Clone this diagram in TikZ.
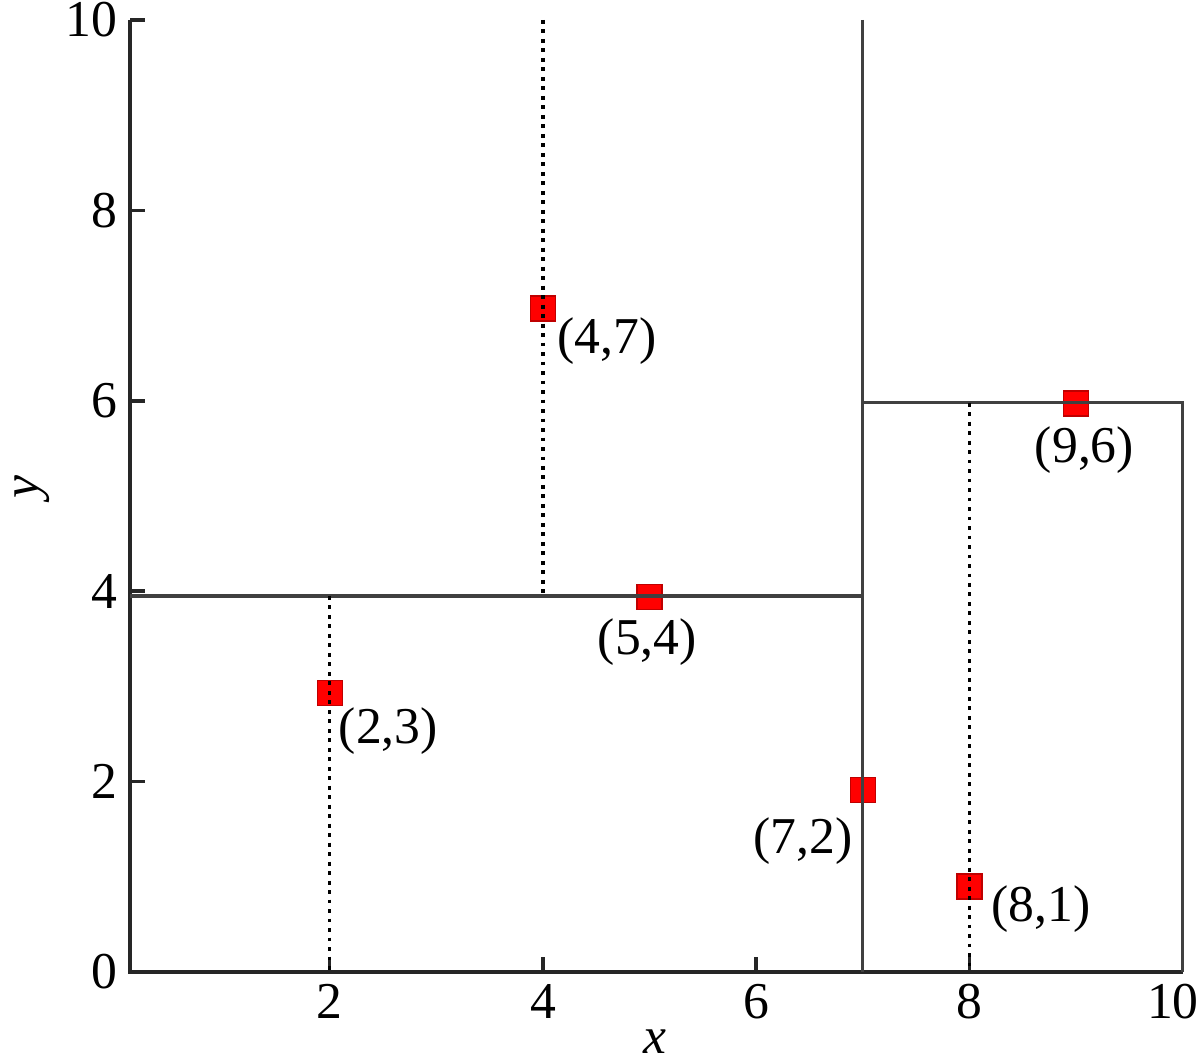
\documentclass[tikz,border=0pt]{standalone}
\usepackage{fontspec}
\setmainfont{Liberation Serif}
\begin{document}
\begin{tikzpicture}
  [x=1.066cm,y=0.952cm,font=\fontsize{14.7}{17}\selectfont,
   axis/.style={draw=black!85,line width=1pt},
   split/.style={draw=black!75,line width=1pt},
   subsplit/.style={draw=black,line width=1pt,dash pattern=on 1.1pt off 1.6pt},
   pt/.style={rectangle,fill=red,draw=red!75!black,line width=0.4pt,minimum size=0.25cm,inner sep=0pt},
   lbl/.style={inner sep=0pt}]
  \useasboundingbox (-1.093,-0.966) rectangle (10.164,10.210);

  \draw[axis] (0.127,10) -- (0.127,0) -- (10,0);
  \foreach \t/\p in {2/2, 4/4, 6/6, 8/8, 10/9.91}
  {
    \draw[axis] (\t,0) -- (\t,0.16);
    \node[lbl,anchor=north] (xt\t) at (\p,-0.12) {\t};
  }
  \foreach \t in {2,4,...,10}
    \draw[axis] (0.127,\t) -- (0.267,\t);
  \foreach \t in {0,2,...,10}
    \node[lbl,anchor=east] (yt\t) at (0.01,\t) {\t};
  \node[lbl] (xlab) at (5.05,-0.735) {\textit{x}};
  \node[lbl,rotate=90] (ylab) at (-0.79,5.09) {\textit{y}};

  \node[pt] (p23) at (2,2.93) {};
  \node[pt] (p47) at (4,6.97) {};
  \node[pt] (p54) at (5,3.94) {};
  \node[pt] (p72) at (7,1.91) {};
  \node[pt] (p81) at (8,0.90) {};
  \node[pt] (p96) at (9,5.97) {};

  \draw[split] (0.127,3.95) -- (7,3.95);
  \draw[split] (7,10) -- (7,0);
  \draw[split] (7,5.98) -- (10,5.98) -- (10,0);
  \draw[subsplit] (4,10) -- (4,3.95);
  \draw[subsplit] (2,3.95) -- (2,0);
  \draw[subsplit] (8,5.98) -- (8,0);

  \node[lbl] (l23) at (2.55,2.53) {(2,3)};
  \node[lbl] (l47) at (4.60,6.63) {(4,7)};
  \node[lbl] (l54) at (4.98,3.47) {(5,4)};
  \node[lbl] (l72) at (6.44,1.37) {(7,2)};
  \node[lbl] (l81) at (8.67,0.66) {(8,1)};
  \node[lbl] (l96) at (9.08,5.48) {(9,6)};
\end{tikzpicture}
\end{document}
